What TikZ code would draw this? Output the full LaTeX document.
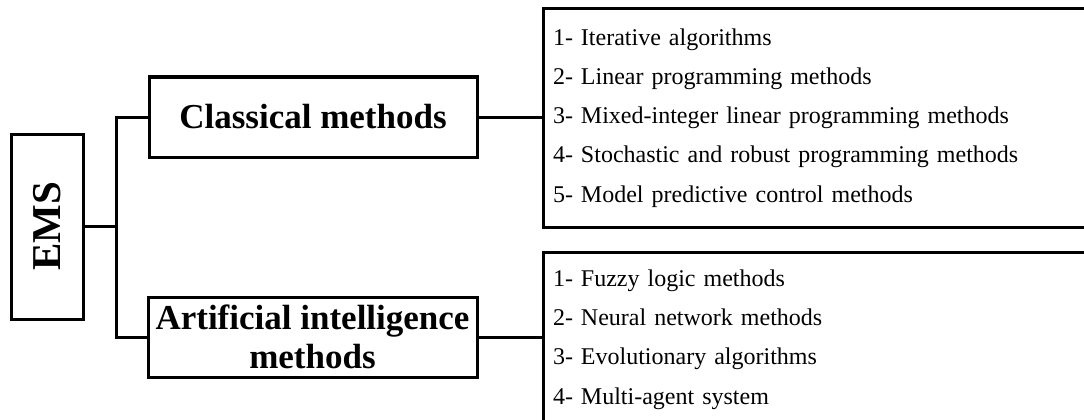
\documentclass[tikz,border=0pt]{standalone}
\usepackage{fontspec}
\setmainfont{Liberation Serif}
\begin{document}
\begin{tikzpicture}[x=1pt,y=-1pt,
  box/.style={draw, line width=3pt, rectangle, inner sep=0pt},
  head/.style={box, font=\fontsize{35}{39}\selectfont\bfseries, align=center},
  listbox/.style={draw, line width=3pt, rectangle, anchor=north west, minimum width=560pt,
     text width=540pt, inner xsep=5pt, inner ysep=0pt, align=left,
     font=\fontsize{24}{39.2}\selectfont},
  link/.style={line width=3pt}]
\useasboundingbox (0,0) rectangle (1084,420);
\clip (0,0) rectangle (1084,420);

\node[box, minimum width=72pt, minimum height=185pt] (ems) at (47,226.5)
  {\rotatebox{90}{\fontsize{41}{41}\selectfont\bfseries EMS}};
\node[head, minimum width=328pt, minimum height=80pt] (cls) at (313,117) {Classical methods};
\node[head, minimum width=329pt, minimum height=80pt] (ai) at (312.5,337)
  {Artificial intelligence\\methods};

\node[listbox, minimum height=218pt] (l1) at (541.5,7.5)
  {1- Iterative algorithms\\
   2- Linear programming methods\\
   3- Mixed-integer linear programming methods\\
   4- Stochastic and robust programming methods\\
   5- Model predictive control methods};
\node[listbox, minimum height=174pt] (l2) at (541.5,251)
  {1- Fuzzy logic methods\\
   2- Neural network methods\\
   3- Evolutionary algorithms\\
   4- Multi-agent system};

\coordinate (spine) at (116,0);
\draw[link] (ems.east) -- (ems.east -| spine);
\draw[link] (cls.west) -| (spine |- ems.east) |- (ai.west);
\draw[link] (cls.east) -- (cls.east -| l1.west);
\draw[link] (ai.east) -- (ai.east -| l2.west);
\end{tikzpicture}
\end{document}
